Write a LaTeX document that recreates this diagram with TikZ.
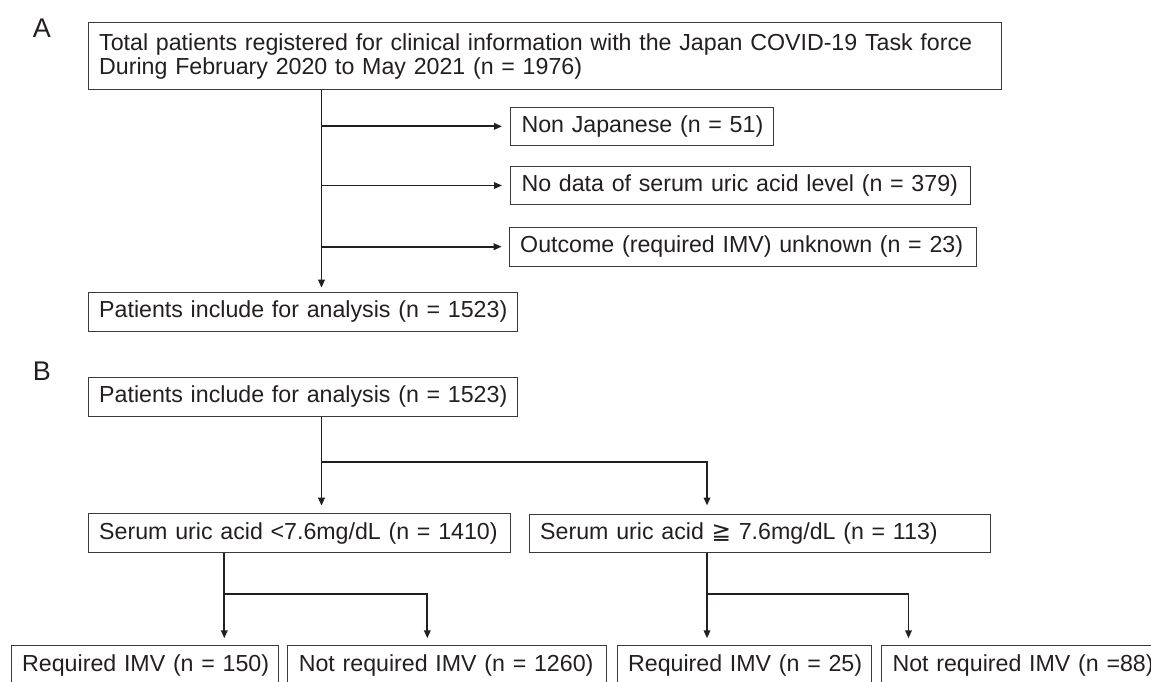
\documentclass[tikz,border=0pt]{standalone}
\usepackage{fontspec}
\setmainfont{Liberation Sans}
\newfontfamily\dejavu{DejaVu Sans}
\usetikzlibrary{arrows.meta}
\definecolor{txt}{HTML}{231F20}
\definecolor{boxc}{HTML}{3A3A3A}
\definecolor{linec}{HTML}{231F20}
\newcommand\boxfs{\fontsize{23.2pt}{23.4pt}\selectfont}
\begin{document}
\begin{tikzpicture}[x=1pt,y=-1pt,
  box/.style={draw=boxc, line width=1pt, anchor=north west, inner xsep=11pt, inner ysep=0pt,
              align=left, text=txt, font=\boxfs},
  panel/.style={text=txt, font=\fontsize{27pt}{27pt}\selectfont, inner sep=0pt},
  conn/.style={draw=linec, line width=1.8pt},
  arr/.style={conn, -{Triangle[length=8pt,width=6.5pt]}},
]
\useasboundingbox (0,0) rectangle (1151,681);

% panel labels
\node[panel] (labA) at (42,28) {A};
\node[panel] (labB) at (42,371.3) {B};

% ---- A ----
\node[box, minimum width=913pt, minimum height=67pt, text width=891pt] (T) at (87.7,22.3)
  {Total patients registered for clinical information with the Japan COVID-19 Task force\\During February 2020 to May 2021 (n = 1976)};
\node[box, minimum width=263.3pt, minimum height=38.3pt, text width=241.3pt] (non) at (510,106.7) {\mbox{Non Japanese (n = 51)}};
\node[box, minimum width=460pt, minimum height=38.6pt, text width=438pt] (nod) at (510,165.7) {\mbox{No data of serum uric acid level (n = 379)}};
\node[box, minimum width=467pt, minimum height=39pt, text width=445pt] (out) at (508.7,226.7) {\mbox{Outcome (required IMV) unknown (n = 23)}};
\node[box, minimum width=429pt, minimum height=39pt, text width=407pt] (patA) at (87.7,291.7) {\mbox{Patients include for analysis (n = 1523)}};

\coordinate (a0) at (321.5,0);
\draw[arr, shorten >=4pt] (a0 |- T.south) -- (a0 |- patA.north);
\draw[arr, shorten >=8pt] (a0 |- non.west) -- (non.west);
\draw[arr, shorten >=8pt] (a0 |- nod.west) -- (nod.west);
\draw[arr, shorten >=7pt] (a0 |- out.west) -- (out.west);

% ---- B ----
\node[box, minimum width=429pt, minimum height=39pt, text width=407pt] (patB) at (87.7,376.7) {\mbox{Patients include for analysis (n = 1523)}};
\node[box, minimum width=422.3pt, minimum height=38.5pt, text width=400.3pt] (low) at (87.7,513.3) {\mbox{Serum uric acid <7.6mg/dL (n = 1410)}};
\node[box, minimum width=461.3pt, minimum height=38.5pt, text width=439.3pt] (high) at (528.7,513.5) {\mbox{Serum uric acid {\dejavu ≧} 7.6mg/dL (n = 113)}};

\node[box, minimum width=267pt, minimum height=39pt, text width=245pt] (r150) at (10.7,645) {\mbox{Required IMV (n = 150)}};
\node[box, minimum width=318.7pt, minimum height=39pt, text width=296.7pt] (n1260) at (287.3,645) {\mbox{Not required IMV (n = 1260)}};
\node[box, minimum width=254.1pt, minimum height=39pt, text width=232.1pt] (r25) at (616.6,645) {\mbox{Required IMV (n = 25)}};
\node[box, minimum width=290pt, minimum height=39pt, text width=268pt] (n88) at (881,645) {\mbox{Not required IMV (n =88)}};

\coordinate (b0) at (321.5,461.7);
\coordinate (b1) at (707,461.7);
\draw[arr, shorten >=7.6pt] (b0 |- patB.south) -- (b0 |- low.north);
\draw[arr, shorten >=8pt] (b0) -| (b1 |- high.north);

\coordinate (c0) at (224.3,594.3);
\coordinate (c1) at (427.3,594.3);
\draw[arr, shorten >=6.7pt] (c0 |- low.south) -- (c0 |- r150.north);
\draw[arr, shorten >=6.7pt] (c0) -| (c1 |- n1260.north);

\coordinate (d0) at (707,594.3);
\coordinate (d1) at (908.5,594.3);
\draw[arr, shorten >=6.7pt] (d0 |- high.south) -- (d0 |- r25.north);
\draw[arr, shorten >=6.7pt] (d0) -| (d1 |- n88.north);
\end{tikzpicture}
\end{document}
